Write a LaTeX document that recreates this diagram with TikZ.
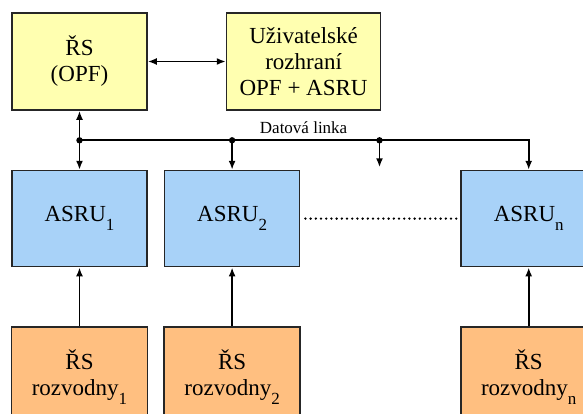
\documentclass[tikz,border=0pt]{standalone}
\usepackage{fontspec}
\setmainfont{Liberation Serif}
\usepackage{tikz}
\usetikzlibrary{arrows.meta, positioning, calc}
\definecolor{ctrlyellow}{HTML}{FFFFB0}
\definecolor{asrublue}{HTML}{A8D2F8}
\definecolor{stationorange}{HTML}{FFBF80}
\tikzstyle{ctrl} = [rectangle, minimum width=135pt, minimum height=97pt, inner sep=0pt, align=center, draw=black!85, line width=1.6pt, fill=ctrlyellow, font=\rmfamily\fontsize{23}{26}\selectfont]
\tikzstyle{asru} = [rectangle, minimum width=135pt, minimum height=96pt, inner sep=0pt, align=center, draw=black!85, line width=1.6pt, fill=asrublue, font=\rmfamily\fontsize{23}{26}\selectfont]
\tikzstyle{rozv} = [rectangle, minimum width=136pt, minimum height=100pt, inner sep=0pt, align=center, draw=black!85, line width=1.6pt, fill=stationorange, font=\rmfamily\fontsize{23}{26}\selectfont]
\tikzstyle{link} = [line width=1.8pt, -{Latex[length=9pt,width=7pt]}]
\tikzstyle{both} = [line width=1.8pt, {Latex[length=9pt,width=7pt]}-{Latex[length=9pt,width=7pt]}]
\newcommand{\idx}[1]{\raisebox{-0.4em}{\fontsize{17}{17}\selectfont #1}}

\begin{document}
\begin{tikzpicture}[node distance=59pt]
\useasboundingbox (0,0) rectangle (583pt,-414pt);
\clip (0,0) rectangle (583pt,-414pt);
\node (rs) [ctrl] at (79.5pt,-61.5pt) {ŘS\\(OPF)};
\node (ui) [ctrl, minimum width=154pt, right=78pt of rs] {Uživatelské\\rozhraní\\OPF + ASRU};
\node (asru1) [asru, below=of rs] {ASRU\idx{1}};
\node (asru2) [asru, right=16pt of asru1] {ASRU\idx{2}};
\node (asrun) [asru, right=160pt of asru2] {ASRU\idx{n}};
\node (rozv1) [rozv, below=of asru1] {ŘS\\rozvodny\idx{1}};
\node (rozv2) [rozv, below=of asru2] {ŘS\\rozvodny\idx{2}};
\node (rozvn) [rozv, below=of asrun] {ŘS\\rozvodny\idx{n}};
% data bus
\coordinate (bus1) at ($(rs.south)!0.5!(asru1.north)$);
\coordinate (bus2) at (asru2.north |- bus1);
\coordinate (bus3) at ($(bus1)+(300pt,0)$);
\coordinate (tap3) at ($(bus3)+(0,-27pt)$);
\draw[both] (rs) -- (ui);
\draw[both] (rs) -- (asru1);
\draw[link] (bus1) -| (asrun.north);
\draw[link] (bus2) -- (asru2);
\draw[link] (bus3) -- (tap3);
\foreach \p in {bus1, bus2, bus3}
  \fill (\p) circle (3.2pt);
\node (linka) [anchor=base, font=\rmfamily\fontsize{17}{17}\selectfont] at ($(ui.south |- bus1)+(0,7pt)$) {Datová linka};
\draw[line width=2.6pt, dash pattern=on 0pt off 5.2pt, line cap=round, shorten <=5pt, shorten >=4pt] (asru2) -- (asrun);
\draw[link] (rozv1) -- (asru1);
\draw[link] (rozv2) -- (asru2);
\draw[link] (rozvn) -- (asrun);
\end{tikzpicture}
\end{document}
